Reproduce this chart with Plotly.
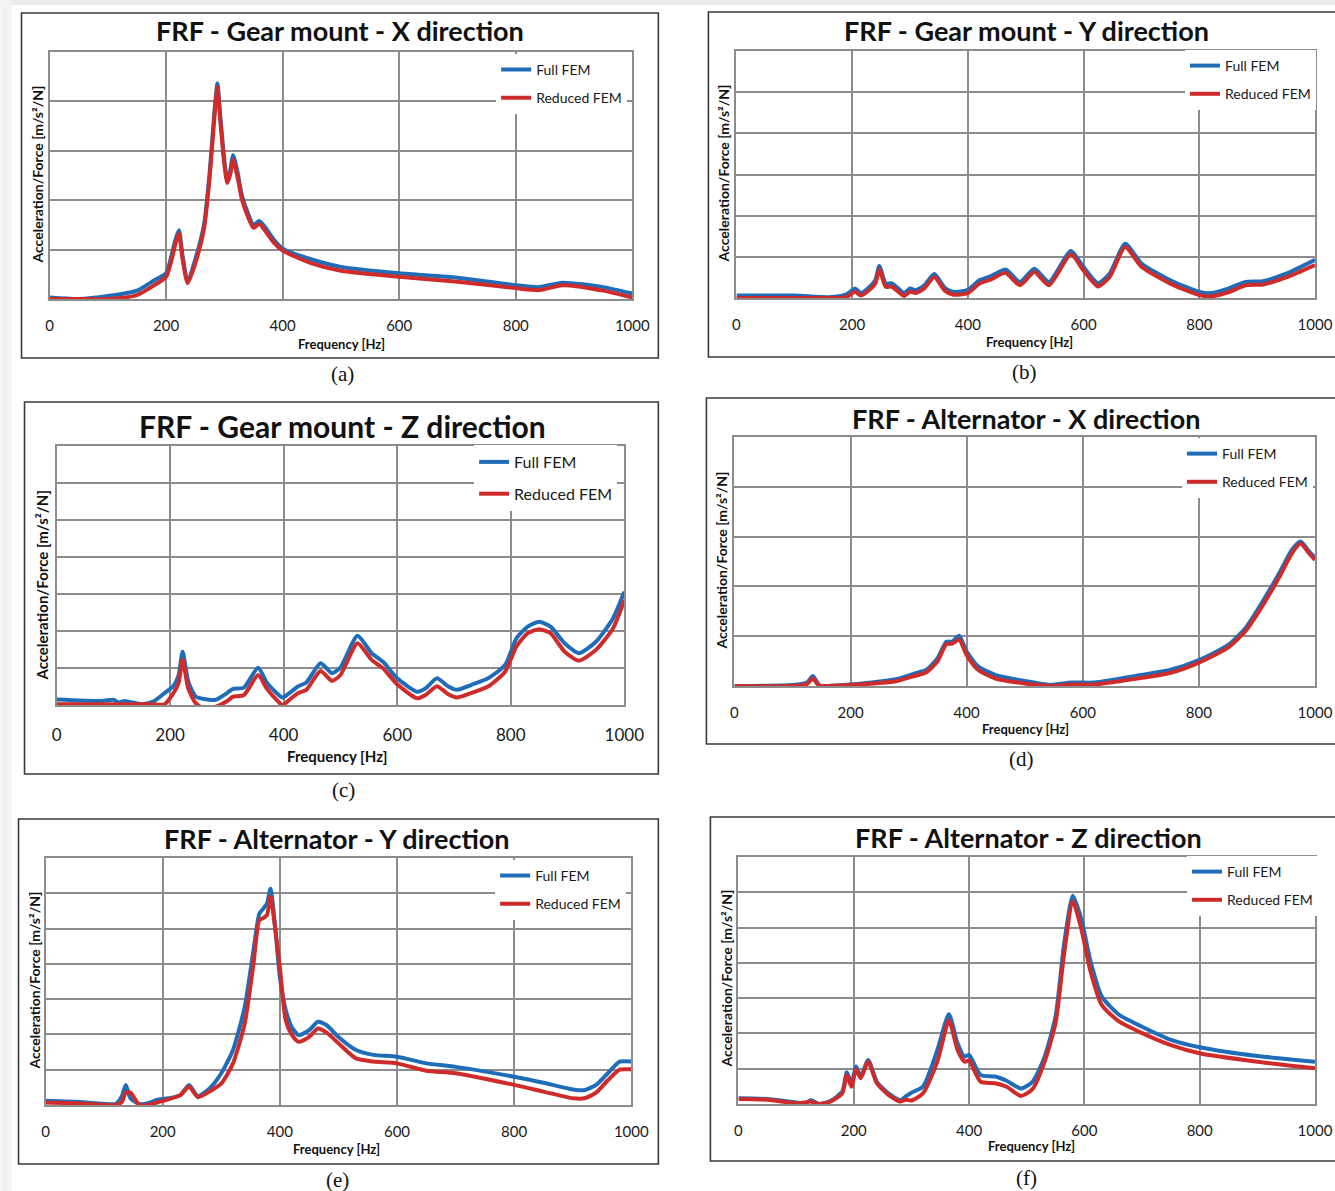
import plotly.graph_objects as go

W, H = 1335, 1191

# ---------------- data (values in grid units) ----------------
titles = ["FRF - Gear mount - X direction", "FRF - Gear mount - Y direction",
          "FRF - Gear mount - Z direction", "FRF - Alternator - X direction",
          "FRF - Alternator - Y direction", "FRF - Alternator - Z direction"]
captions = ["(a)", "(b)", "(c)", "(d)", "(e)", "(f)"]
series_names = ["Full FEM", "Reduced FEM"]
x_ticks = [0, 200, 400, 600, 800, 1000]
x_title = "Frequency [Hz]"
y_title = "Acceleration/Force [m/s²/N]"

a_freq = [0, 50, 100, 150, 180, 200, 210, 216, 222, 228, 237, 250, 265, 275, 283, 288, 293, 300, 305,
          310, 315, 322, 330, 340, 350, 360, 370, 385, 400, 450, 500, 600, 700, 800, 840, 880, 950, 1000]
a_full = [0.03, 0.0, 0.06, 0.17, 0.38, 0.52, 0.92, 1.2, 1.39, 0.9, 0.35, 0.8, 1.5, 2.6, 3.8, 4.36, 3.7, 2.8, 2.4,
          2.6, 2.91, 2.6, 2.1, 1.75, 1.5, 1.58, 1.45, 1.2, 1.02, 0.8, 0.65, 0.52, 0.43, 0.28, 0.24, 0.33, 0.24, 0.11]
a_red = [0.0, 0.0, 0.0, 0.08, 0.28, 0.45, 0.82, 1.12, 1.33, 0.82, 0.32, 0.72, 1.42, 2.5, 3.7, 4.28, 3.6, 2.72, 2.35,
         2.52, 2.82, 2.5, 2.02, 1.68, 1.44, 1.52, 1.38, 1.14, 0.98, 0.72, 0.57, 0.45, 0.35, 0.22, 0.18, 0.28, 0.17, 0.03]

b_freq = [0, 100, 160, 190, 205, 215, 230, 240, 247, 258, 268, 280, 290, 300, 310, 325, 342, 360, 375, 400,
          420, 440, 465, 490, 515, 540, 578, 600, 625, 645, 672, 700, 750, 800, 820, 850, 880, 910, 950, 1000]
b_full = [0.06, 0.06, 0.02, 0.09, 0.23, 0.12, 0.27, 0.43, 0.78, 0.35, 0.36, 0.23, 0.12, 0.23, 0.19, 0.31, 0.58, 0.25, 0.15, 0.2,
          0.43, 0.53, 0.69, 0.39, 0.71, 0.39, 1.14, 0.75, 0.36, 0.59, 1.32, 0.84, 0.43, 0.15, 0.12, 0.23, 0.39, 0.41, 0.59, 0.93]
b_red = [0.0, 0.0, 0.0, 0.02, 0.15, 0.06, 0.2, 0.35, 0.69, 0.27, 0.28, 0.15, 0.05, 0.15, 0.12, 0.24, 0.51, 0.18, 0.08, 0.12,
         0.35, 0.45, 0.61, 0.31, 0.63, 0.31, 1.06, 0.67, 0.28, 0.51, 1.24, 0.76, 0.35, 0.07, 0.04, 0.14, 0.31, 0.33, 0.5, 0.8]

c_freq = [0, 80, 100, 110, 120, 150, 170, 190, 205, 215, 222, 232, 245, 260, 280, 300, 310, 330, 355, 370,
          385, 398, 410, 425, 440, 465, 485, 500, 530, 555, 575, 600, 635, 650, 670, 690, 705, 730, 760, 790,
          810, 830, 850, 870, 895, 920, 950, 980, 1000]
c_full = [0.15, 0.11, 0.14, 0.07, 0.11, 0.02, 0.09, 0.32, 0.5, 0.81, 1.44, 0.63, 0.23, 0.16, 0.14, 0.32, 0.43, 0.47, 1.01, 0.61,
          0.36, 0.2, 0.32, 0.5, 0.61, 1.13, 0.86, 1.01, 1.87, 1.4, 1.17, 0.72, 0.36, 0.45, 0.72, 0.5, 0.41, 0.54, 0.72, 1.08,
          1.8, 2.12, 2.25, 2.12, 1.67, 1.4, 1.71, 2.34, 3.06]
c_red = [0.02, 0.02, 0.02, 0.02, 0.02, 0.02, 0.02, 0.02, 0.3, 0.6, 1.22, 0.45, 0.05, -0.1, -0.05, 0.1, 0.22, 0.27, 0.81, 0.45,
         0.18, 0.0, 0.14, 0.32, 0.41, 0.92, 0.65, 0.81, 1.67, 1.22, 0.99, 0.56, 0.18, 0.27, 0.51, 0.29, 0.2, 0.32, 0.5, 0.9,
         1.58, 1.94, 2.05, 1.94, 1.44, 1.2, 1.49, 2.07, 2.84]

d_freq = [0, 100, 125, 135, 145, 150, 200, 250, 280, 310, 330, 350, 365, 375, 387, 400, 420, 450, 500, 545,
          580, 620, 700, 750, 800, 850, 880, 910, 940, 960, 975, 990, 1000]
d_full = [0.0, 0.02, 0.07, 0.2, 0.03, 0.0, 0.03, 0.09, 0.14, 0.25, 0.32, 0.56, 0.89, 0.89, 1.01, 0.69, 0.39, 0.22, 0.1, 0.02,
          0.07, 0.07, 0.22, 0.32, 0.52, 0.82, 1.16, 1.7, 2.3, 2.73, 2.9, 2.7, 2.58]
d_red = [0.0, 0.0, 0.04, 0.15, 0.01, 0.0, 0.02, 0.06, 0.1, 0.2, 0.27, 0.5, 0.84, 0.85, 0.93, 0.62, 0.32, 0.15, 0.05, 0.0,
         0.03, 0.03, 0.16, 0.26, 0.47, 0.77, 1.1, 1.62, 2.22, 2.66, 2.86, 2.66, 2.53]

e_freq = [0, 50, 100, 120, 130, 137, 145, 160, 175, 190, 210, 230, 245, 260, 280, 300, 320, 340, 355, 365,
          372, 378, 384, 392, 400, 410, 420, 432, 450, 465, 480, 500, 530, 560, 600, 650, 700, 800, 850, 900,
          920, 940, 960, 980, 1000]
e_full = [0.12, 0.09, 0.03, 0.03, 0.24, 0.57, 0.19, 0.03, 0.05, 0.14, 0.19, 0.28, 0.57, 0.25, 0.47, 0.9, 1.56, 2.78, 4.39, 5.42,
          5.57, 5.71, 6.13, 5.05, 3.63, 2.69, 2.22, 1.98, 2.12, 2.36, 2.26, 1.93, 1.56, 1.42, 1.37, 1.18, 1.08, 0.8, 0.63, 0.44,
          0.42, 0.57, 0.9, 1.23, 1.23]
e_red = [0.07, 0.05, 0.0, 0.0, 0.08, 0.35, 0.35, 0.0, 0.0, 0.07, 0.16, 0.28, 0.52, 0.22, 0.38, 0.61, 1.18, 2.31, 4.0, 5.24,
         5.3, 5.38, 5.9, 5.0, 3.9, 2.4, 2.0, 1.79, 1.93, 2.17, 2.05, 1.75, 1.32, 1.23, 1.18, 0.97, 0.9, 0.57, 0.38, 0.19,
         0.19, 0.35, 0.7, 1.0, 1.01]

f_freq = [0, 50, 100, 115, 125, 140, 160, 180, 188, 196, 204, 212, 225, 240, 260, 280, 290, 300, 320, 345,
          365, 380, 392, 400, 420, 445, 465, 490, 510, 530, 550, 565, 580, 595, 610, 630, 660, 700, 750, 800,
          900, 1000]
f_full = [0.16, 0.14, 0.04, 0.0, 0.11, 0.0, 0.09, 0.35, 0.9, 0.59, 1.06, 0.78, 1.25, 0.63, 0.3, 0.11, 0.21, 0.32, 0.49, 1.53,
          2.54, 1.72, 1.34, 1.39, 0.82, 0.78, 0.66, 0.44, 0.63, 1.29, 2.48, 4.56, 5.9, 5.22, 4.09, 3.05, 2.53, 2.19, 1.82, 1.61,
          1.36, 1.2]
f_red = [0.14, 0.12, 0.02, 0.04, 0.07, 0.0, 0.07, 0.3, 0.82, 0.49, 0.98, 0.73, 1.2, 0.59, 0.26, 0.07, 0.12, 0.1, 0.3, 1.2,
         2.37, 1.53, 1.2, 1.23, 0.63, 0.59, 0.49, 0.23, 0.42, 1.15, 2.29, 4.28, 5.74, 4.94, 3.8, 2.81, 2.34, 2.01, 1.67, 1.44,
         1.2, 1.01]

y_grid_counts = [5, 6, 7, 5, 7, 7]

# ---------------- layout geometry (pixels) ----------------
BLUE = "#1F6DB8"
RED = "#D02B2B"
GRID = "#8C8C8C"
TXT = "#1a1a1a"
FONT = "Lato"

# horizontal correction for the capture pipeline (observed ~0.98 scale, +4.5 px shift)
SCX, OFFX = 0.98, 4.5
RIGHT_EDGE = 1.03  # paper x beyond the right edge, for boxes cut by the page edge

geo = [
    dict(plot=(49, 631, 52, 299), box=(21, 13, 657, 358), title=(339, 31, 27), ytit=(37, 175, 14),
         xtit=(341, 344, 13), tick=15, tlen=12, leg=(495, 54, 14, 7), cap=(342, 374)),
    dict(plot=(735, 1316, 51, 298), box=(707, 12, None, 357), title=(1025, 30, 27), ytit=(723, 173, 14),
         xtit=(1028, 342, 13), tick=15, tlen=12, leg=(1183, 50, 14, 7), cap=(1023, 372)),
    dict(plot=(56, 623, 446, 705), box=(24, 402, 657, 774), title=(342, 426, 30), ytit=(41, 585, 15),
         xtit=(337, 756, 15), tick=17, tlen=14, leg=(473, 445, 16, 8), cap=(343, 790)),
    dict(plot=(733, 1317, 437, 686), box=(705, 398, None, 744), title=(1024, 418, 27), ytit=(721, 560, 14),
         xtit=(1024, 729, 13), tick=15, tlen=12, leg=(1180, 438, 14, 7), cap=(1020, 759)),
    dict(plot=(45, 630, 858, 1105), box=(18, 819, 657, 1164), title=(336, 838, 27), ytit=(33, 981, 14),
         xtit=(336, 1149, 13), tick=15, tlen=12, leg=(494, 860, 14, 7), cap=(337, 1180)),
    dict(plot=(737, 1318, 857, 1104), box=(709, 817, None, 1161), title=(1027, 837, 27), ytit=(726, 978, 14),
         xtit=(1030, 1146, 13), tick=15, tlen=12, leg=(1185, 856, 14, 7), cap=(1025, 1178)),
]

freqs = [a_freq, b_freq, c_freq, d_freq, e_freq, f_freq]
fulls = [a_full, b_full, c_full, d_full, e_full, f_full]
reds = [a_red, b_red, c_red, d_red, e_red, f_red]


def px(x):
    return ((x - OFFX) / SCX) / W


def py(y):
    return 1 - y / H


fig = go.Figure()
layout = dict(width=W, height=H, autosize=False, margin=dict(l=0, r=0, t=0, b=0, pad=0),
              paper_bgcolor="white", plot_bgcolor="white", showlegend=True)
shapes = []
annotations = []

# page background edges
shapes.append(dict(type="rect", xref="paper", yref="paper", x0=px(0), x1=RIGHT_EDGE, y0=py(5), y1=1,
                   fillcolor="#ECECEC", line=dict(width=0), layer="below"))
shapes.append(dict(type="rect", xref="paper", yref="paper", x0=px(0), x1=px(11), y0=0, y1=1,
                   fillcolor="#F3F3F3", line=dict(width=0), layer="below"))

BOX_LINE = dict(color="#3A3A3A", width=1.6)

for i in range(6):
    g = geo[i]
    sfx = "" if i == 0 else str(i + 1)
    xa, ya = "x" + sfx, "y" + sfx
    legname = "legend" + sfx
    x0, x1, yt, yb = g["plot"]
    for k, (vals, col) in enumerate([(fulls[i], BLUE), (reds[i], RED)]):
        fig.add_trace(go.Scatter(
            x=freqs[i], y=vals, mode="lines", name=series_names[k],
            line=dict(color=col, width=4, shape="spline", smoothing=0.6),
            xaxis=xa, yaxis=ya, legend=legname, legendgroup=f"g{i}{k}",
            hoverinfo="skip"))
    layout["xaxis" + sfx] = dict(
        domain=[px(x0), min(px(x1), 1.0)], anchor=ya, range=[0, 1000], tickvals=x_ticks,
        ticktext=[str(t) for t in x_ticks],
        showgrid=True, gridcolor=GRID, gridwidth=1.6, zeroline=False,
        showline=True, linecolor=GRID, linewidth=1.6, mirror=True,
        ticks="outside", ticklen=g["tlen"], tickcolor="rgba(0,0,0,0)",
        tickfont=dict(family=FONT, size=g["tick"], color=TXT), fixedrange=True)
    layout["yaxis" + sfx] = dict(
        domain=[py(yb), py(yt)], anchor=xa, range=[0, y_grid_counts[i]], dtick=1, tick0=0,
        showticklabels=False, showgrid=True, gridcolor=GRID, gridwidth=1.6, zeroline=False,
        showline=True, linecolor=GRID, linewidth=1.6, mirror=True, fixedrange=True)
    lx, ly, lfs, lgap = g["leg"]
    layout[legname] = dict(
        x=px(lx), y=py(ly), xanchor="left", yanchor="top", bgcolor="white",
        borderwidth=0, font=dict(family=FONT, size=lfs, color=TXT),
        tracegroupgap=lgap, traceorder="grouped")
    bx0, by0, bx1, by1 = g["box"]
    if bx1 is not None:
        shapes.append(dict(type="rect", xref="paper", yref="paper", x0=px(bx0), x1=px(bx1),
                           y0=py(by1), y1=py(by0), line=BOX_LINE,
                           fillcolor="rgba(0,0,0,0)", layer="above"))
    else:
        shapes.append(dict(type="path", xref="paper", yref="paper",
                           path=(f"M{RIGHT_EDGE},{py(by0)} L{px(bx0)},{py(by0)} "
                                 f"L{px(bx0)},{py(by1)} L{RIGHT_EDGE},{py(by1)}"),
                           line=BOX_LINE, layer="above"))
    tx, ty, tfs = g["title"]
    annotations.append(dict(text=titles[i], x=px(tx), y=py(ty), xref="paper", yref="paper",
                            xanchor="center", yanchor="middle", showarrow=False,
                            font=dict(family=FONT, size=tfs, color="#111", weight="bold")))
    yx, yy, yfs = g["ytit"]
    annotations.append(dict(text=y_title, x=px(yx), y=py(yy), xref="paper", yref="paper",
                            xanchor="center", yanchor="middle", showarrow=False, textangle=-90,
                            font=dict(family=FONT, size=yfs, color="#111", weight="bold")))
    xx, xy, xfs = g["xtit"]
    annotations.append(dict(text=x_title, x=px(xx), y=py(xy), xref="paper", yref="paper",
                            xanchor="center", yanchor="middle", showarrow=False,
                            font=dict(family=FONT, size=xfs, color="#111", weight="bold")))
    cx, cy = g["cap"]
    annotations.append(dict(text=captions[i], x=px(cx), y=py(cy), xref="paper", yref="paper",
                            xanchor="center", yanchor="middle", showarrow=False,
                            font=dict(family="Liberation Serif", size=21, color="#111")))

layout["shapes"] = shapes
layout["annotations"] = annotations
fig.update_layout(**layout)
fig.write_html(
    "out.html",
    config={"responsive": False, "displayModeBar": False},
    post_script="document.body.style.margin='0';document.body.style.padding='0';"
                "document.body.style.overflow='hidden';"
                "document.documentElement.style.overflow='hidden';")
